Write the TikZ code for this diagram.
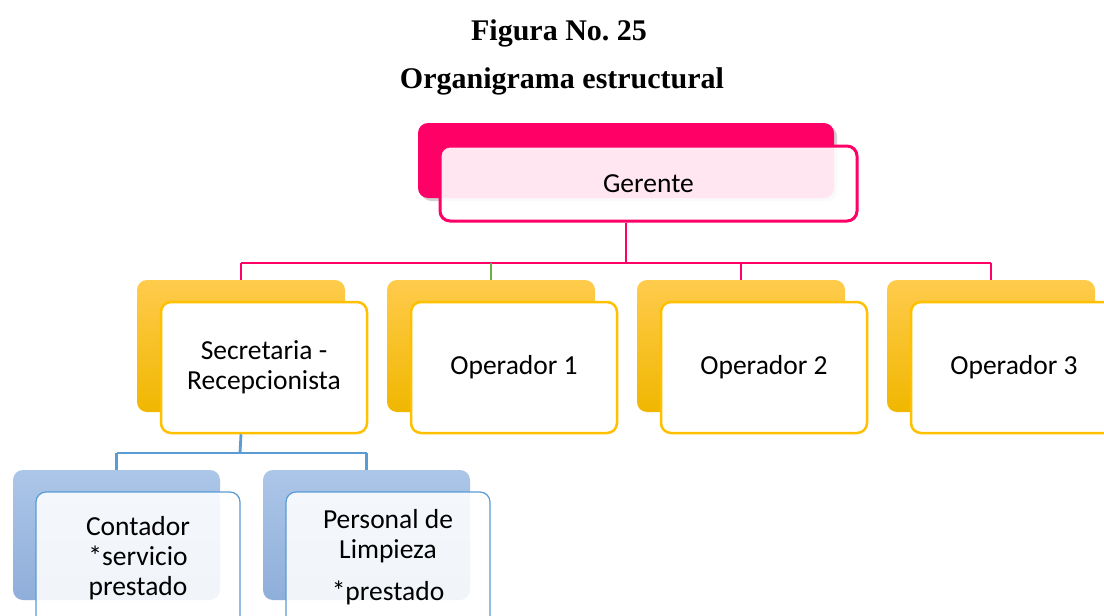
\documentclass[tikz,border=0pt]{standalone}
\usepackage{fontspec}
\setmainfont{Carlito}
\newfontfamily\titlefont{Liberation Serif}
\usetikzlibrary{shadows}
\frenchspacing
\definecolor{gpink}{HTML}{FF0066}
\definecolor{gyelT}{HTML}{FFCB4C}
\definecolor{gyelB}{HTML}{F0B700}
\definecolor{gyel}{HTML}{FFC000}
\definecolor{gbluT}{HTML}{ACC6E8}
\definecolor{gbluB}{HTML}{8FAEDA}
\definecolor{gblu}{HTML}{5B9BD5}
\definecolor{ggreen}{HTML}{70AD47}
\tikzset{
  box/.style={rectangle, rounded corners=10pt, inner sep=0pt, align=center,
    font=\fontsize{27.5}{30}\selectfont},
  pinkback/.style={box, fill=gpink, minimum width=416pt, minimum height=75pt,
    drop shadow={opacity=0.35, shadow xshift=3pt, shadow yshift=-3pt}},
  pinkfront/.style={box, draw=gpink, line width=3pt, fill=white, fill opacity=0.9,
    text opacity=1, minimum width=417pt, minimum height=75pt},
  yelback/.style={box, top color=gyelT, bottom color=gyelB, minimum width=208pt, minimum height=132pt},
  yelfront/.style={box, draw=gyel, line width=2.5pt, fill=white, minimum width=206pt, minimum height=131pt},
  bluback/.style={box, top color=gbluT, bottom color=gbluB, minimum width=207pt, minimum height=130pt},
  blufront/.style={box, draw=gblu, line width=1.2pt, fill=white, fill opacity=0.88, text opacity=1,
    minimum width=204pt, minimum height=140pt},
  boxtext/.style={font=\fontsize{27.5}{30}\selectfont, align=center, anchor=base, inner sep=0pt},
  pinkline/.style={draw=gpink, line width=2pt},
  greenline/.style={draw=ggreen, line width=2pt},
  blueline/.style={draw=gblu, line width=2.8pt},
  titletext/.style={font=\titlefont\bfseries\fontsize{30}{34}\selectfont, anchor=base, inner sep=0pt}
}
\begin{document}
\begin{tikzpicture}[x=1pt,y=-1pt]
\useasboundingbox (0,0) rectangle (1104,616);
\clip (0,0) rectangle (1104,616);
\fill[white] (0,0) rectangle (1104,616);

% titles
\node[titletext] (t1) at (559,40) {Figura No. 25};
\node[titletext] (t2) at (562,88) {Organigrama estructural};

% coordinates of buses
\coordinate (bus) at (626,263);
\coordinate (bbus) at (240,453);

% Gerente
\node[pinkback] (gb) at (626,160.5) {};
\node[pinkfront] (gf) at (648.5,183.5) {Gerente};

% second level
\node[yelback] (sb) at (241,346) {};
\node[yelfront] (sf) at (264,367.5) {Secretaria -\\Recepcionista};
\node[yelback] (o1b) at (491,346) {};
\node[yelfront] (o1f) at (514,367.5) {Operador 1};
\node[yelback] (o2b) at (741,346) {};
\node[yelfront] (o2f) at (764,367.5) {Operador 2};
\node[yelback] (o3b) at (991,346) {};
\node[yelfront] (o3f) at (1014,367.5) {Operador 3};

% third level
\node[bluback] (cb) at (116.5,535) {};
\node[blufront] (cf) at (138,562) {};
\node[boxtext] (ct) at (138,595) {Contador\\*servicio\\prestado};
\node[bluback] (pb) at (366.5,535) {};
\node[blufront] (pf) at (388,562) {};
\node[boxtext] (pt1) at (388,558) {Personal de\\Limpieza};
\node[boxtext] (pt2) at (388,600) {*prestado};

% connectors
\draw[pinkline] (gb.south |- gf.south) -- (bus);
\draw[pinkline] (bus -| sb.north) -- (bus -| o3b.north);
\draw[pinkline] (bus -| sb.north) -- (sb.north);
\draw[greenline] (bus -| o1b.north) -- (o1b.north);
\draw[pinkline] (bus -| o2b.north) -- (o2b.north);
\draw[pinkline] (bus -| o3b.north) -- (o3b.north);

\draw[blueline] (sb.south |- sf.south) -- (bbus);
\draw[blueline] (bbus -| cb.north) -- (bbus -| pb.north);
\draw[blueline] (bbus -| cb.north) -- (cb.north);
\draw[blueline] (bbus -| pb.north) -- (pb.north);
\end{tikzpicture}
\end{document}
